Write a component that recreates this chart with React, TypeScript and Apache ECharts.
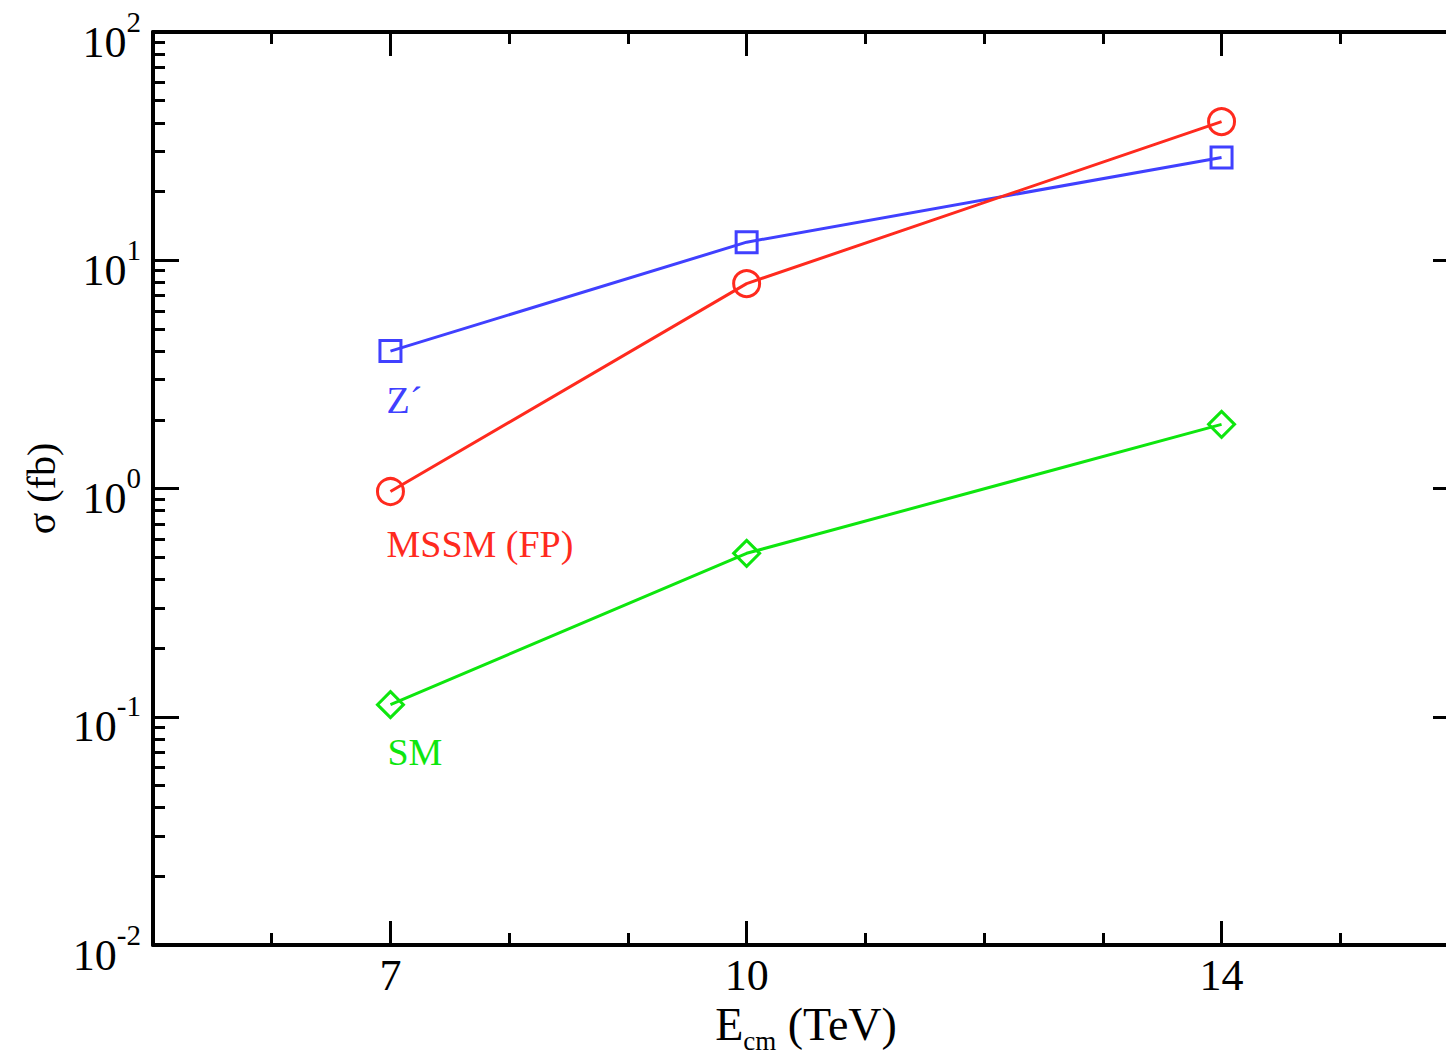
import React, { useEffect, useRef } from "react";
import * as echarts from "echarts";

// Data
const ENERGY = [7, 10, 14]; // E_cm in TeV
const ZPRIME = [4.0, 12.0, 28.2]; // σ (fb)
const MSSM_FP = [0.97, 7.9, 40.5];
const SM = [0.113, 0.52, 1.91];

const X_MAJOR = [7, 10, 14];
const X_MINOR = [6, 8, 9, 11, 12, 13, 15];
const Y_EXPONENTS = [-2, -1, 0, 1, 2];
const Y_MINOR_MULT = [2, 3, 4, 5, 6, 7, 8, 9];

const BLUE = "#4040ff";
const RED = "#ff2a1e";
const GREEN = "#0ee60e";
const FONT = "Liberation Serif";

const Y_MIN_EXP = Y_EXPONENTS[0];
const Y_MAX_EXP = Y_EXPONENTS[Y_EXPONENTS.length - 1];
const yMinorTicks: number[] = [];
for (let d = Y_MIN_EXP; d < Y_MAX_EXP; d++) {
  for (const m of Y_MINOR_MULT) yMinorTicks.push(d + Math.log10(m));
}

function makeSeries(
  name: string,
  values: number[],
  color: string,
  symbol: string,
  size: number,
  labelOffset: number[]
) {
  return {
    type: "line",
    name,
    xAxisIndex: 0,
    yAxisIndex: 0,
    symbol,
    symbolSize: size,
    showSymbol: true,
    lineStyle: { color, width: 3 },
    itemStyle: { color: "rgba(0,0,0,0)", borderColor: color, borderWidth: 3 },
    emphasis: { disabled: true },
    data: values.map((v, i) => ({
      value: [ENERGY[i], Math.log10(v)],
      label:
        i === 0
          ? {
              show: true,
              position: "inside",
              align: "left",
              verticalAlign: "middle",
              offset: labelOffset,
              formatter: name,
              color,
              fontFamily: FONT,
              fontSize: 38,
            }
          : { show: false },
    })),
  };
}

const commonX = { type: "value", min: 5, max: 16, splitLine: { show: false } };
const commonY = { type: "value", min: Y_MIN_EXP, max: Y_MAX_EXP, interval: 1, splitLine: { show: false } };
const tickStyle = { color: "#000", width: 3 };

export default function App() {
  const ref = useRef<HTMLDivElement>(null);
  useEffect(() => {
    if (!ref.current) return;
    const chart = echarts.init(ref.current, undefined, { renderer: "svg" });
    chart.setOption({
      animation: false,
      backgroundColor: "#fff",
      grid: { left: 153, right: -13, top: 32, bottom: 110, containLabel: false, outerBoundsMode: "none" },
      xAxis: [
        {
          ...commonX,
          position: "bottom",
          axisLine: { show: true, onZero: false, lineStyle: { color: "#000", width: 4 } },
          axisTick: { show: true, inside: true, length: 24, lineStyle: tickStyle, customValues: X_MAJOR },
          axisLabel: {
            show: true,
            customValues: X_MAJOR,
            color: "#000",
            fontFamily: FONT,
            fontSize: 44,
            margin: 8,
          },
          name: "{e|E}{sub|cm}{n| (TeV)}",
          nameLocation: "middle",
          nameGap: 40,
          nameTextStyle: {
            color: "#000",
            fontFamily: FONT,
            rich: {
              e: { fontFamily: FONT, fontSize: 46, lineHeight: 60, color: "#000" },
              n: { fontFamily: FONT, fontSize: 46, lineHeight: 60, color: "#000" },
              sub: { fontFamily: FONT, fontSize: 27, lineHeight: 28, verticalAlign: "bottom", color: "#000" },
            },
          },
        },
        {
          ...commonX,
          position: "bottom",
          axisLine: { show: false, onZero: false },
          axisTick: { show: true, inside: true, length: 12, lineStyle: tickStyle, customValues: X_MINOR },
          axisLabel: { show: false },
        },
        {
          ...commonX,
          position: "top",
          axisLine: { show: true, onZero: false, lineStyle: { color: "#000", width: 4 } },
          axisTick: { show: true, inside: true, length: 24, lineStyle: tickStyle, customValues: X_MAJOR },
          axisLabel: { show: false },
        },
        {
          ...commonX,
          position: "top",
          axisLine: { show: false, onZero: false },
          axisTick: { show: true, inside: true, length: 12, lineStyle: tickStyle, customValues: X_MINOR },
          axisLabel: { show: false },
        },
      ],
      yAxis: [
        {
          ...commonY,
          position: "left",
          axisLine: { show: true, onZero: false, lineStyle: { color: "#000", width: 4 } },
          axisTick: { show: true, inside: true, length: 26, lineStyle: tickStyle },
          axisLabel: {
            show: true,
            margin: 12,
            padding: [20, 0, 0, 0],
            formatter: (v: number) => `{b|10}{s|${Math.round(v)}}`,
            rich: {
              b: { fontFamily: FONT, fontSize: 44, lineHeight: 70, color: "#000" },
              s: { fontFamily: FONT, fontSize: 29, verticalAlign: "top", color: "#000" },
            },
          },
          name: "σ (fb)",
          nameLocation: "middle",
          nameGap: 92,
          nameTextStyle: { color: "#000", fontFamily: FONT, fontSize: 40 },
        },
        {
          ...commonY,
          position: "left",
          axisLine: { show: false, onZero: false },
          axisTick: { show: true, inside: true, length: 12, lineStyle: tickStyle, customValues: yMinorTicks },
          axisLabel: { show: false },
        },
        {
          ...commonY,
          position: "right",
          axisLine: { show: true, onZero: false, lineStyle: { color: "#000", width: 4 } },
          axisTick: { show: true, inside: true, length: 26, lineStyle: tickStyle },
          axisLabel: { show: false },
        },
        {
          ...commonY,
          position: "right",
          axisLine: { show: false, onZero: false },
          axisTick: { show: true, inside: true, length: 12, lineStyle: tickStyle, customValues: yMinorTicks },
          axisLabel: { show: false },
        },
      ],
      series: [
        makeSeries("Z´", ZPRIME, BLUE, "rect", 21, [-4, 49]),
        makeSeries("MSSM (FP)", MSSM_FP, RED, "circle", 26, [-4, 52]),
        makeSeries("SM", SM, GREEN, "diamond", 26, [-3, 47]),
      ],
    });
    return () => chart.dispose();
  }, []);
  return (
    <div
      ref={ref}
      style={{ position: "fixed", left: 0, top: 0, width: 1446, height: 1055, background: "#fff" }}
    />
  );
}
